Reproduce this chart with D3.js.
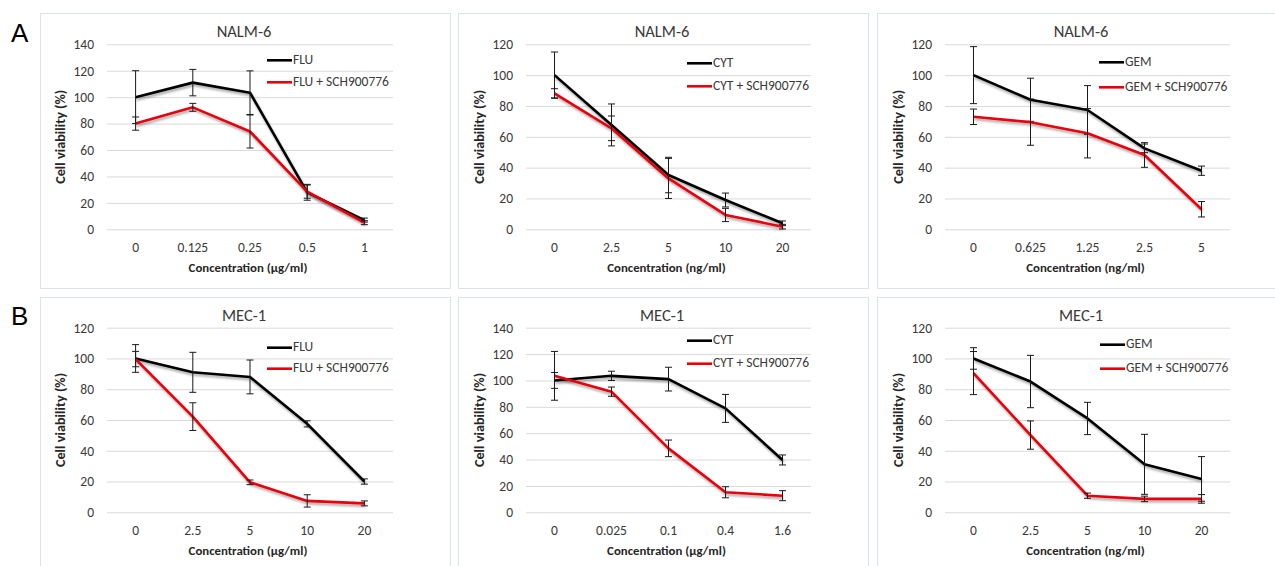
<!DOCTYPE html>
<html>
<head>
<meta charset="utf-8">
<script src="https://cdn.jsdelivr.net/npm/d3@7"></script>
<style>
  html, body { margin: 0; padding: 0; background: #fff; }
  svg { display: block; }
  text { font-family: Carlito, Calibri, Lato, "Open Sans", sans-serif; fill: #262626; }
</style>
</head>
<body>
<svg id="chart" width="1275" height="566"></svg>
<script>
// ---------- DATA ----------
const rowLetters = ["A", "B"];
const cellLines = ["NALM-6", "MEC-1"];
const drugs = ["FLU", "CYT", "GEM"];
const comboSuffix = " + SCH900776";
const yLabel = "Cell viability (%)";

// NALM-6
const nalmFluX = ["0", "0.125", "0.25", "0.5", "1"];
const nalmFlu = [100, 111, 103.4, 28, 7];
const nalmFluErr = [20, 10, 16.5, 6, 1.5];
const nalmFluSch = [80, 92.3, 74, 28.5, 5];
const nalmFluSchErr = [5, 3, 12.5, 5, 1.5];

const nalmCytX = ["0", "2.5", "5", "10", "20"];
const nalmCyt = [100, 67.7, 35.2, 19, 3.9];
const nalmCytErr = [15, 13.6, 11.5, 4.5, 1.5];
const nalmCytSch = [88.2, 65.5, 33, 9.3, 1.7];
const nalmCytSchErr = [3, 8, 13, 4.3, 1.5];

const nalmGemX = ["0", "0.625", "1.25", "2.5", "5"];
const nalmGem = [100, 84, 77.4, 52.5, 38];
const nalmGemErr = [18.5, 14, 15.8, 2.8, 3];
const nalmGemSch = [73, 69.5, 62.3, 48.2, 13];
const nalmGemSchErr = [5, 15, 16, 8, 5];

// MEC-1
const mecFluX = ["0", "2.5", "5", "10", "20"];
const mecFlu = [100, 91, 88, 57.5, 20];
const mecFluErr = [9, 13, 11, 2, 1.7];
const mecFluSch = [99.6, 62.2, 19.5, 7.4, 5.8];
const mecFluSchErr = [5, 9, 1.5, 4, 1.6];

const mecCytX = ["0", "0.025", "0.1", "0.4", "1.6"];
const mecCyt = [100, 103.5, 101, 78.8, 39.7];
const mecCytErr = [6, 3.5, 9, 10.6, 3.8];
const mecCytSch = [103.5, 91.5, 48.5, 15.2, 12.6];
const mecCytSchErr = [18.5, 3.5, 6.3, 4.2, 3.8];

const mecGemX = ["0", "2.5", "5", "10", "20"];
const mecGem = [100, 85, 61, 31.2, 21.7];
const mecGemErr = [7, 17, 10.5, 19.5, 14.5];
const mecGemSch = [90.5, 50.2, 10.8, 8.7, 8.7];
const mecGemSchErr = [14, 9.2, 1.7, 1.8, 2.8];

const yMaxes = [140, 120, 120, 120, 140, 120];
const units = ["Concentration (µg/ml)", "Concentration (ng/ml)", "Concentration (ng/ml)",
               "Concentration (µg/ml)", "Concentration (µg/ml)", "Concentration (ng/ml)"];

const panelData = [
  { row: 0, col: 0, title: cellLines[0], drug: drugs[0], x: nalmFluX, a: nalmFlu, ae: nalmFluErr, b: nalmFluSch, be: nalmFluSchErr },
  { row: 0, col: 1, title: cellLines[0], drug: drugs[1], x: nalmCytX, a: nalmCyt, ae: nalmCytErr, b: nalmCytSch, be: nalmCytSchErr },
  { row: 0, col: 2, title: cellLines[0], drug: drugs[2], x: nalmGemX, a: nalmGem, ae: nalmGemErr, b: nalmGemSch, be: nalmGemSchErr },
  { row: 1, col: 0, title: cellLines[1], drug: drugs[0], x: mecFluX, a: mecFlu, ae: mecFluErr, b: mecFluSch, be: mecFluSchErr },
  { row: 1, col: 1, title: cellLines[1], drug: drugs[1], x: mecCytX, a: mecCyt, ae: mecCytErr, b: mecCytSch, be: mecCytSchErr },
  { row: 1, col: 2, title: cellLines[1], drug: drugs[2], x: mecGemX, a: mecGem, ae: mecGemErr, b: mecGemSch, be: mecGemSchErr }
];

// ---------- LAYOUT ----------
const boxX = [40, 458, 877];
const boxW = 410;
const boxY = [13, 297];
const boxH = 275;
const plotLeft = [107, 526, 945];
const plotRight = [393, 811, 1230];
const plotTop = [44.3, 327.7];
const plotBottom = [229.3, 512.3];
// legend offsets (from plot right, plot top)
const legendPos = [[-126, 16, 38], [-124, 19, 42], [-131, 18, 43],
                   [-126, 20, 41], [-124, 13, 36], [-130, 17, 41]];
const letterPos = [[11, 42], [11, 325]];
const fontMain = "Carlito, Calibri, Lato, sans-serif";

const svg = d3.select("#chart");
const defs = svg.append("defs");
const f = defs.append("filter").attr("id", "shadow")
  .attr("x", "-10%").attr("y", "-10%").attr("width", "130%").attr("height", "140%");
f.append("feDropShadow").attr("dx", 1).attr("dy", 2.2).attr("stdDeviation", 1.1)
  .attr("flood-color", "#000").attr("flood-opacity", 0.35);

// row letters
rowLetters.forEach((L, i) => {
  svg.append("text").attr("x", letterPos[i][0]).attr("y", letterPos[i][1])
    .style("font-family", "'Liberation Sans', Arial, sans-serif")
    .style("font-size", "26px").style("fill", "#000").text(L);
});

panelData.forEach((p, i) => {
  const r = p.row, c = p.col;
  const g = svg.append("g");

  // panel box
  g.append("rect").attr("x", boxX[c] + 0.5).attr("y", boxY[r] + 0.5)
    .attr("width", boxW).attr("height", boxH)
    .attr("fill", "#fff").attr("stroke", "#dae2eb").attr("stroke-width", 1);

  const x = d3.scaleBand().domain(p.x).range([plotLeft[c], plotRight[c]]);
  const y = d3.scaleLinear().domain([0, yMaxes[i]]).range([plotBottom[r], plotTop[r]]);
  const cx = d => x(d) + x.bandwidth() / 2;

  // gridlines
  const yAxis = d3.axisLeft(y).ticks(yMaxes[i] / 20)
    .tickSize(-(plotRight[c] - plotLeft[c])).tickPadding(13);
  const ya = g.append("g").attr("transform", `translate(${plotLeft[c]},0)`).call(yAxis);
  ya.select(".domain").remove();
  ya.selectAll(".tick line").attr("stroke", "#d9d9d9").attr("stroke-width", 1);
  ya.selectAll(".tick text").style("font-size", "13.5px").style("fill", "#3a3a3a")
    .style("font-family", fontMain);

  // x axis
  const xAxis = d3.axisBottom(x).tickSize(0).tickPadding(13);
  const xa = g.append("g").attr("transform", `translate(0,${plotBottom[r]})`).call(xAxis);
  xa.select(".domain").remove();
  xa.selectAll(".tick text").style("font-size", "13.5px").style("fill", "#3a3a3a")
    .style("font-family", fontMain);

  // titles
  g.append("text").attr("x", boxX[c] + 204).attr("y", plotTop[r] - 11)
    .attr("text-anchor", "middle").attr("dominant-baseline", "middle")
    .style("font-size", "16.5px").style("fill", "#3a3a3a").text(p.title);
  g.append("text").attr("x", (plotLeft[c] + plotRight[c]) / 2 - 2).attr("y", plotBottom[r] + 39.5)
    .attr("text-anchor", "middle").attr("dominant-baseline", "middle")
    .style("font-size", "12.8px").style("font-weight", "bold").style("fill", "#262626").text(units[i]);
  g.append("text")
    .attr("transform", `translate(${plotLeft[c] - 45},${(plotTop[r] + plotBottom[r]) / 2}) rotate(-90)`)
    .attr("text-anchor", "middle").attr("dominant-baseline", "middle")
    .style("font-size", "14.2px").style("font-weight", "bold").style("fill", "#262626").text(yLabel);

  // series
  const series = [
    { vals: p.a, err: p.ae, color: "#000000", name: p.drug },
    { vals: p.b, err: p.be, color: "#e8000b", name: p.drug + comboSuffix }
  ];
  const line = d3.line().x((d, j) => cx(p.x[j])).y(d => y(d));
  series.forEach(s => {
    g.append("path").datum(s.vals).attr("d", line)
      .attr("fill", "none").attr("stroke", s.color).attr("stroke-width", 2.6)
      .attr("stroke-linejoin", "round").attr("filter", "url(#shadow)");
    const eb = g.append("g").attr("stroke", "#1a1a1a").attr("stroke-width", 1);
    s.vals.forEach((v, j) => {
      const xx = cx(p.x[j]);
      const y1 = y(v + s.err[j]), y2 = y(Math.max(0, v - s.err[j]));
      eb.append("line").attr("x1", xx).attr("x2", xx).attr("y1", y1).attr("y2", y2);
      eb.append("line").attr("x1", xx - 3.5).attr("x2", xx + 3.5).attr("y1", y1).attr("y2", y1);
      eb.append("line").attr("x1", xx - 3.5).attr("x2", xx + 3.5).attr("y1", y2).attr("y2", y2);
    });
  });

  // legend
  const lp = legendPos[i];
  series.forEach((s, k) => {
    const lx = plotRight[c] + lp[0];
    const ly = plotTop[r] + lp[1 + k];
    g.append("line").attr("x1", lx).attr("x2", lx + 25).attr("y1", ly).attr("y2", ly)
      .attr("stroke", s.color).attr("stroke-width", 2.6);
    g.append("text").attr("x", lx + 26).attr("y", ly).attr("dominant-baseline", "middle")
      .style("font-size", "13.5px").style("fill", "#3a3a3a").text(s.name);
  });
});
</script>
</body>
</html>
